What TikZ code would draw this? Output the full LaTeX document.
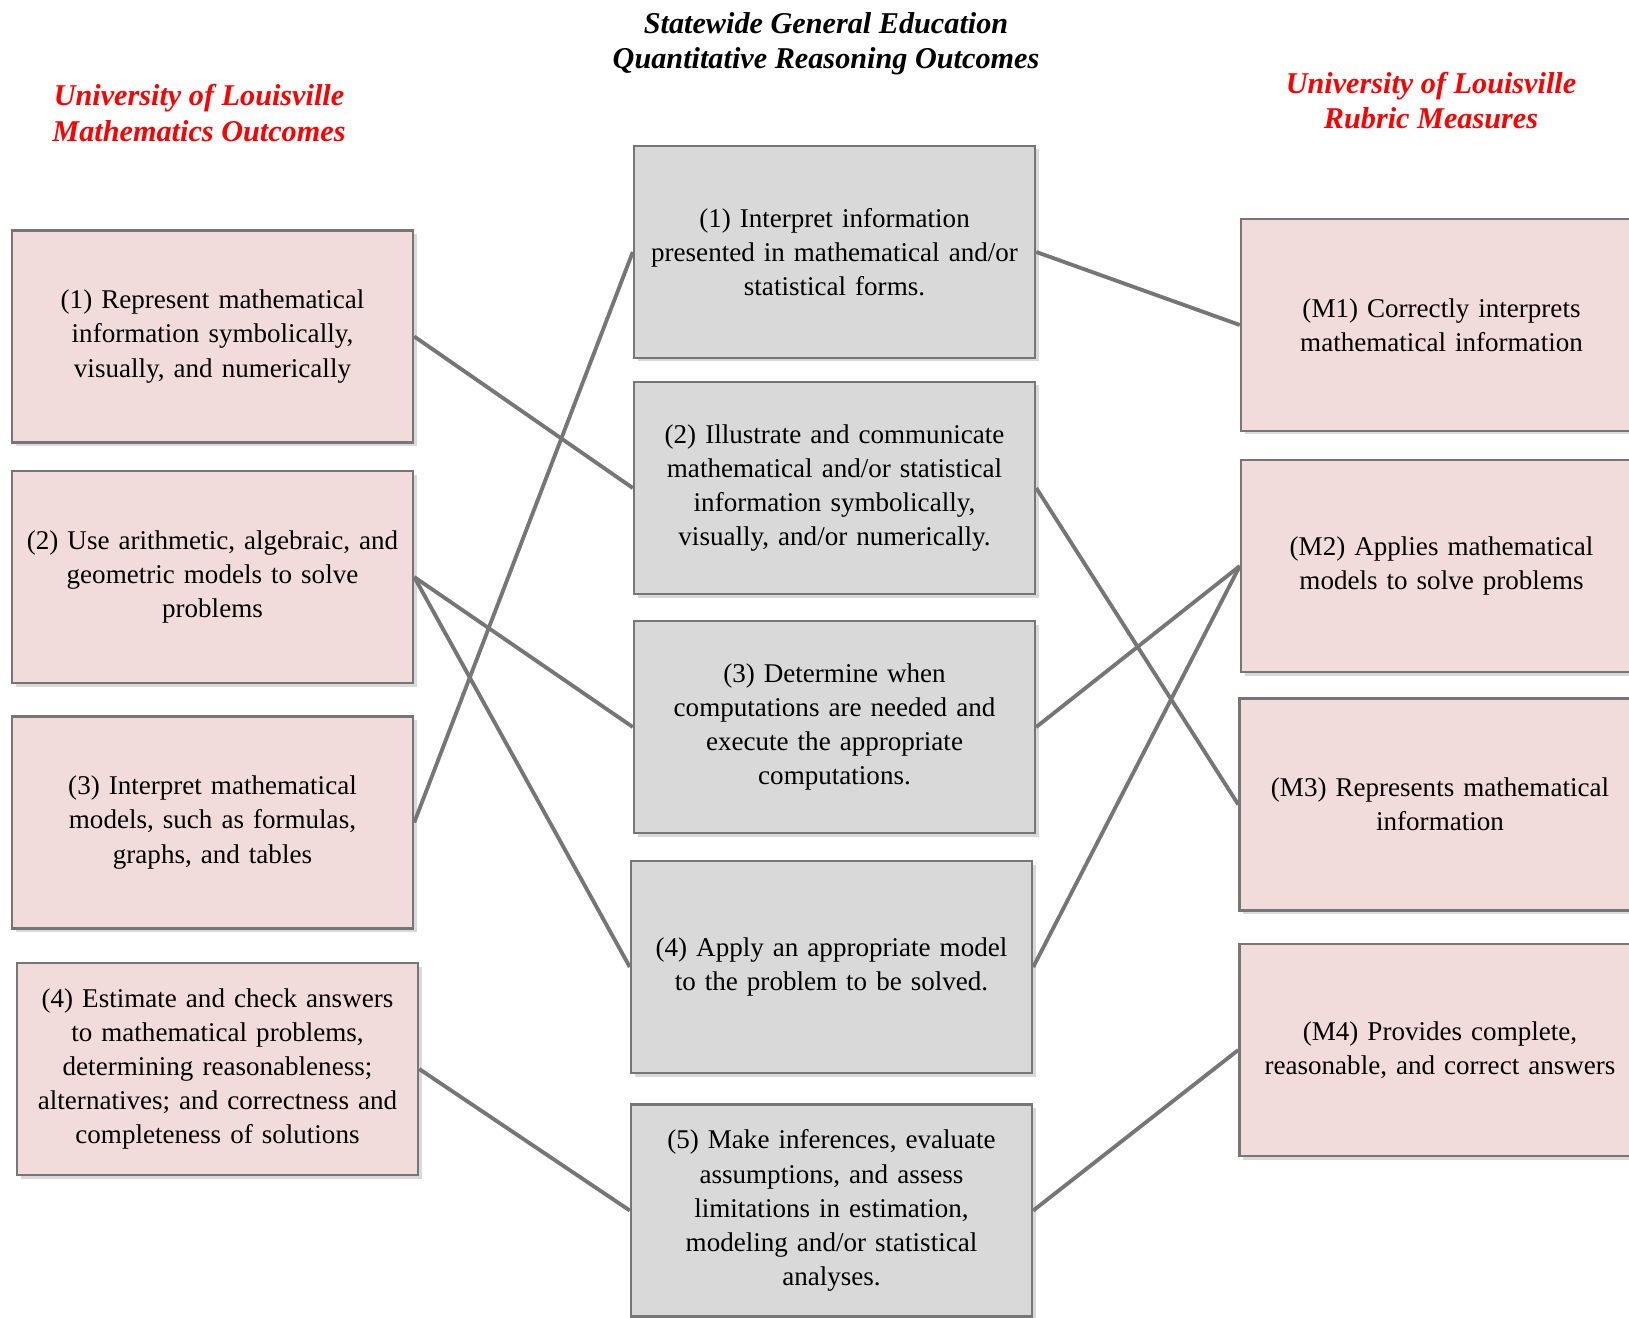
\documentclass[tikz,border=0pt]{standalone}
\usepackage{fontspec}
\setmainfont{Liberation Serif}
\usepackage{xcolor}
\usetikzlibrary{shadows}
\definecolor{mpink}{HTML}{F2DCDB}
\definecolor{mgray}{HTML}{D9D9D9}
\definecolor{mline}{HTML}{767676}
\definecolor{mred}{HTML}{FF0000}
\tikzstyle{lw}=[line width=1.1pt]
\tikzstyle{box}=[rectangle, draw=mline, line width=0.7pt, minimum width=4.01cm, minimum height=2.12cm, text width=3.96cm, inner sep=0.5pt, align=center, font=\fontsize{7.7}{9.7}\selectfont, drop shadow={shadow xshift=0.035cm, shadow yshift=-0.035cm, opacity=0.3}]
\tikzstyle{head}=[align=center, font=\fontsize{8.6}{10}\selectfont\bfseries\itshape]

\begin{document}
\begin{tikzpicture}
    \clip (0,0) rectangle (16.29,-13.17);
    % headings
    \node[head] at (8.26,-0.435) (qt) {Statewide General Education\\Quantitative Reasoning Outcomes};
    \node[head, mred] at (1.99,-1.13) (mt) {University of Louisville\\Mathematics Outcomes};
    \node[head, mred] at (14.31,-1.005) (rt) {University of Louisville\\Rubric Measures};

    \node[box, fill=mpink] at (2.125,-3.365) (m1) {(1) Represent mathematical\\information symbolically,\\visually, and numerically};
    \node[box, fill=mpink] at (2.125,-5.77) (m2) {(2) Use arithmetic, algebraic, and\\geometric models to solve\\problems};
    \node[box, fill=mpink] at (2.125,-8.225) (m3) {(3) Interpret mathematical\\models, such as formulas,\\graphs, and tables};
    \node[box, fill=mpink] at (2.175,-10.69) (m4) {(4) Estimate and check answers\\to mathematical problems,\\determining reasonableness;\\alternatives; and correctness and\\completeness of solutions};

    \node[box, fill=mgray] at (8.345,-2.52) (q1) {(1) Interpret information\\presented in mathematical and/or\\statistical forms.};
    \node[box, fill=mgray] at (8.345,-4.88) (q2) {(2) Illustrate and communicate\\mathematical and/or statistical\\information symbolically,\\visually, and/or numerically.};
    \node[box, fill=mgray] at (8.345,-7.27) (q3) {(3) Determine when\\computations are needed and\\execute the appropriate\\computations.};
    \node[box, fill=mgray] at (8.315,-9.67) (q4) {(4) Apply an appropriate model\\to the problem to be solved.};
    \node[box, fill=mgray] at (8.315,-12.105) (q5) {(5) Make inferences, evaluate\\assumptions, and assess\\limitations in estimation,\\modeling and/or statistical\\analyses.};

    \node[box, fill=mpink] at (14.415,-3.25) (r1) {(M1) Correctly interprets\\mathematical information};
    \node[box, fill=mpink] at (14.415,-5.66) (r2) {(M2) Applies mathematical\\models to solve problems};
    \node[box, fill=mpink] at (14.40,-8.045) (r3) {(M3) Represents mathematical\\information};
    \node[box, fill=mpink] at (14.40,-10.5) (r4) {(M4) Provides complete,\\reasonable, and correct answers};

    \draw[lw, mline] (m1.east) -- (q2.west);
    \draw[lw, mline] (m2.east) -- (q3.west);
    \draw[lw, mline] (m2.east) -- (q4.west);
    \draw[lw, mline] (m3.east) -- (q1.west);
    \draw[lw, mline] (m4.east) -- (q5.west);

    \draw[lw, mline] (q1.east) -- (r1.west);
    \draw[lw, mline] (q2.east) -- (r3.west);
    \draw[lw, mline] (q3.east) -- (r2.west);
    \draw[lw, mline] (q4.east) -- (r2.west);
    \draw[lw, mline] (q5.east) -- (r4.west);
\end{tikzpicture}
\end{document}
